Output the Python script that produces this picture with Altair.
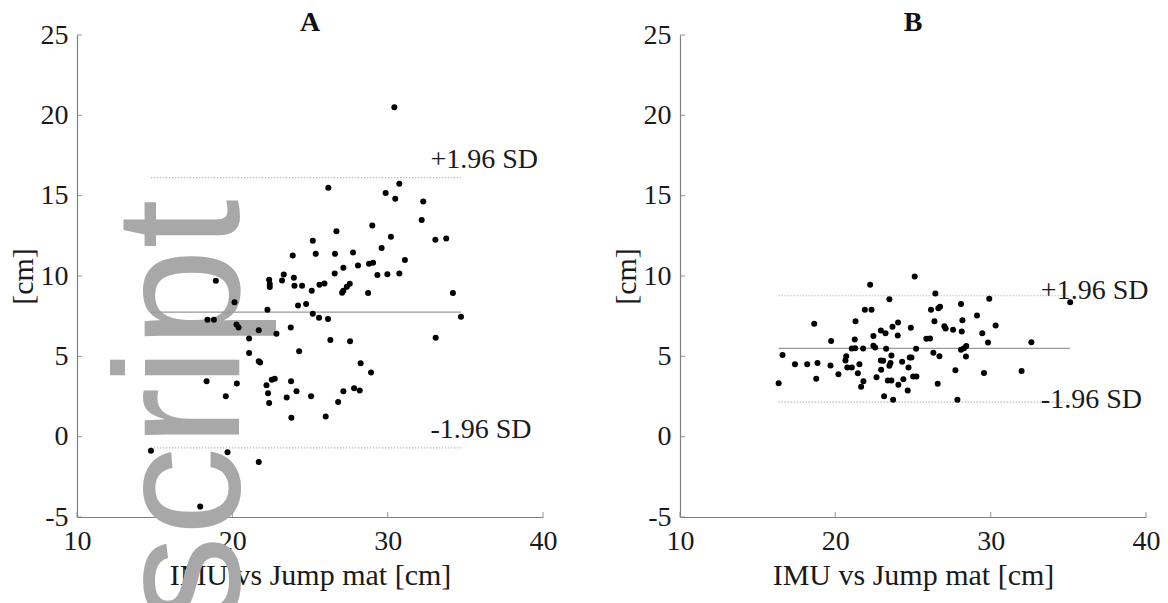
import altair as alt
import pandas as pd

FONT = "Liberation Serif"

# ---------------- data ----------------
a_x = [30.43, 26.18, 30.75, 29.87, 30.49, 32.29, 32.19, 29.01, 26.70, 25.18,
       30.21, 33.07, 33.77, 29.61, 23.89, 25.37, 26.61, 27.77, 27.15, 28.09,
       28.80, 29.06, 31.11, 26.59, 29.34, 29.98, 30.75, 23.31, 23.96, 23.20,
       22.37, 22.41, 22.41, 18.94, 24.00, 24.49, 25.11, 25.61, 25.93, 27.56,
       27.37, 27.15, 27.07, 28.74, 34.20, 20.14, 22.26, 24.23, 24.75, 18.40,
       18.81, 25.18, 25.58, 26.16, 34.72, 20.27, 20.40, 21.70, 22.84, 23.76,
       21.08, 26.31, 27.58, 33.09, 24.30, 21.08, 21.70, 21.79, 28.26, 28.93,
       18.34, 20.29, 22.54, 22.73, 22.20, 23.78, 22.30, 24.13, 19.58, 23.50,
       25.07, 27.15, 27.84, 28.20, 26.81, 22.37, 23.80, 26.01, 14.76, 19.69,
       21.70, 17.93]
a_y = [20.50, 15.49, 15.74, 15.16, 14.81, 14.64, 13.48, 13.15, 12.78, 12.19,
       12.44, 12.26, 12.34, 11.74, 11.28, 11.38, 11.38, 11.47, 10.51, 10.66,
       10.76, 10.82, 10.99, 10.16, 10.07, 10.11, 10.16, 10.10, 9.89, 9.72,
       9.77, 9.50, 9.31, 9.70, 9.40, 9.39, 9.08, 9.45, 9.54, 9.52,
       9.33, 9.08, 8.96, 8.94, 8.94, 8.37, 7.90, 8.17, 8.25, 7.27,
       7.27, 7.65, 7.40, 7.33, 7.46, 6.98, 6.79, 6.63, 6.40, 6.79,
       6.11, 6.01, 5.94, 6.15, 5.32, 5.20, 4.70, 4.62, 4.57, 3.99,
       3.45, 3.31, 3.54, 3.60, 3.20, 3.45, 2.71, 2.83, 2.52, 2.44,
       2.52, 2.83, 3.02, 2.87, 2.15, 2.10, 1.17, 1.25, -0.88, -0.97,
       -1.57, -4.35]

b_x = [25.11, 22.24, 26.44, 23.48, 28.09, 29.91, 35.12, 21.90, 22.33, 26.16,
       26.63, 26.74, 29.12, 21.30, 24.04, 18.64, 26.38, 28.18, 30.32, 23.68,
       24.86, 27.02, 27.10, 27.58, 22.93, 23.23, 22.45, 24.02, 28.14, 29.46,
       19.73, 21.25, 25.86, 26.10, 29.83, 32.62, 22.45, 22.56, 21.06, 21.28,
       21.79, 23.27, 25.20, 28.09, 28.28, 28.43, 16.60, 20.70, 23.61, 26.31,
       26.70, 28.41, 24.79, 24.90, 20.65, 22.93, 23.08, 24.30, 17.40, 18.19,
       18.85, 19.69, 21.55, 23.55, 23.48, 20.77, 21.06, 24.71, 22.95, 27.73,
       31.99, 20.20, 21.45, 22.65, 25.01, 25.22, 29.57, 16.35, 18.77, 21.81,
       23.38, 23.61, 24.38, 24.06, 26.59, 21.66, 24.66, 23.14, 23.72, 27.86]
b_y = [9.97, 9.45, 8.91, 8.56, 8.25, 8.58, 8.37, 7.90, 7.90, 7.90,
       8.00, 8.08, 7.54, 7.19, 7.11, 7.03, 7.19, 7.25, 6.92, 6.84,
       6.78, 6.88, 6.73, 6.65, 6.61, 6.44, 6.26, 6.30, 6.55, 6.44,
       5.95, 6.05, 6.09, 6.11, 5.86, 5.88, 5.66, 5.55, 5.49, 5.51,
       5.49, 5.47, 5.47, 5.41, 5.51, 5.64, 5.09, 5.01, 5.05, 5.22,
       5.01, 4.99, 4.93, 4.93, 4.74, 4.74, 4.72, 4.66, 4.51, 4.51,
       4.58, 4.43, 4.51, 4.58, 4.41, 4.31, 4.31, 4.31, 4.16, 4.14,
       4.08, 3.89, 3.95, 3.70, 3.75, 3.75, 3.97, 3.33, 3.60, 3.45,
       3.50, 3.50, 3.58, 3.23, 3.29, 3.10, 2.87, 2.52, 2.29, 2.29]

# mean / limits of agreement
a_mean, a_upper, a_lower = 7.75, 16.12, -0.70
a_line_x = [14.78, 34.72]
b_mean, b_upper, b_lower = 5.49, 8.77, 2.15
b_line_x = [16.35, 35.10]

sd_labels = ["+1.96 SD", "-1.96 SD"]
a_label_x = [32.75, 32.75]
a_label_y = [17.24, 0.42]
b_label_x = [33.23, 33.23]
b_label_y = [9.08, 2.29]

x_ticks = [10, 20, 30, 40]
y_ticks = [-5, 0, 5, 10, 15, 20, 25]
x_title = "IMU vs Jump mat [cm]"
y_title = "[cm]"
titles = ["A", "B"]

watermark_text = ["script"]
watermark_x = [20.46]
watermark_y = [-11.7]

W, H = 466, 482
X_DOM = [10, 40]
Y_DOM = [-5, 25]
AXIS_GREY = "#808080"


def panel(title, xs, ys, mean, upper, lower, line_x, lab_x, lab_y, mark=False):
    xs_ = alt.Scale(domain=X_DOM, nice=False, zero=False)
    ys_ = alt.Scale(domain=Y_DOM, nice=False, zero=False)
    xax = alt.Axis(values=x_ticks, title=x_title, labelExpr="'' + datum.value",
                   labelFlush=False)
    yax = alt.Axis(values=y_ticks, title=y_title, labelExpr="'' + datum.value",
                   labelFlush=False)

    def X(f="x"):
        return alt.X(f"{f}:Q", scale=xs_, axis=xax)

    def Y(f="y"):
        return alt.Y(f"{f}:Q", scale=ys_, axis=yax)

    pts = pd.DataFrame({"x": xs, "y": ys})
    mean_df = pd.DataFrame({"x": [line_x[0]], "x2": [line_x[1]], "y": [mean]})
    sd_df = pd.DataFrame({"x": [line_x[0]] * 2, "x2": [line_x[1]] * 2,
                          "y": [upper, lower]})
    lab_df = pd.DataFrame({"x": lab_x, "y": lab_y, "t": sd_labels})
    xt_df = pd.DataFrame({"x": x_ticks, "y": [Y_DOM[0]] * len(x_ticks)})
    yt_df = pd.DataFrame({"x": [X_DOM[0]] * len(y_ticks), "y": y_ticks})

    layers = []
    if mark:
        wm = pd.DataFrame({"x": watermark_x, "y": watermark_y, "t": watermark_text})
        layers.append(
            alt.Chart(wm).mark_text(angle=270, align="left", baseline="alphabetic",
                                    font="Liberation Sans", fontSize=178,
                                    color="#a8a8a8")
            .encode(x=X(), y=Y(), text="t:N")
        )
    # inward axis ticks (MATLAB style)
    layers.append(
        alt.Chart(xt_df).mark_tick(orient="vertical", size=5, thickness=1.2,
                                   color=AXIS_GREY, yOffset=-2.5)
        .encode(x=X(), y=Y())
    )
    layers.append(
        alt.Chart(yt_df).mark_tick(orient="horizontal", size=5, thickness=1.2,
                                   color=AXIS_GREY, xOffset=2.5)
        .encode(x=X(), y=Y())
    )
    layers.append(
        alt.Chart(mean_df).mark_rule(color="#9a9a9a", strokeWidth=1.2)
        .encode(x=X(), x2="x2:Q", y=Y())
    )
    layers.append(
        alt.Chart(sd_df).mark_rule(color="#a0a0a0", strokeWidth=1.2, strokeDash=[1, 2])
        .encode(x=X(), x2="x2:Q", y=Y())
    )
    layers.append(
        alt.Chart(pts).mark_circle(size=36, color="black", opacity=1)
        .encode(x=X(), y=Y())
    )
    layers.append(
        alt.Chart(lab_df).mark_text(align="left", baseline="middle", font=FONT,
                                    fontSize=28, color="#1a1a1a")
        .encode(x=X(), y=Y(), text="t:N")
    )
    return alt.layer(*layers).properties(
        width=W, height=H,
        title=alt.TitleParams(title, font=FONT, fontSize=28, fontWeight="bold",
                              color="#111111", offset=-16, anchor="middle",
                              frame="group"),
    )


left = panel(titles[0], a_x, a_y, a_mean, a_upper, a_lower, a_line_x,
             a_label_x, a_label_y, mark=True)
right = panel(titles[1], b_x, b_y, b_mean, b_upper, b_lower, b_line_x,
              b_label_x, b_label_y)

chart = (
    alt.hconcat(left, right, spacing=54)
    .properties(padding={"left": 0, "top": 1, "right": 0, "bottom": 0})
    .configure_view(stroke=None)
    .configure_axis(
        grid=False,
        domainColor=AXIS_GREY,
        domainWidth=1.2,
        ticks=False,
        labelFont=FONT, titleFont=FONT,
        labelFontSize=28, titleFontSize=30,
        labelColor="#1a1a1a", titleColor="#1a1a1a",
        titleFontWeight="normal",
    )
    .configure_axisX(labelPadding=10, titlePadding=5)
    .configure_axisY(labelPadding=9, titlePadding=2)
)

chart.save("out.html", embed_options={"renderer": "svg", "actions": False})
